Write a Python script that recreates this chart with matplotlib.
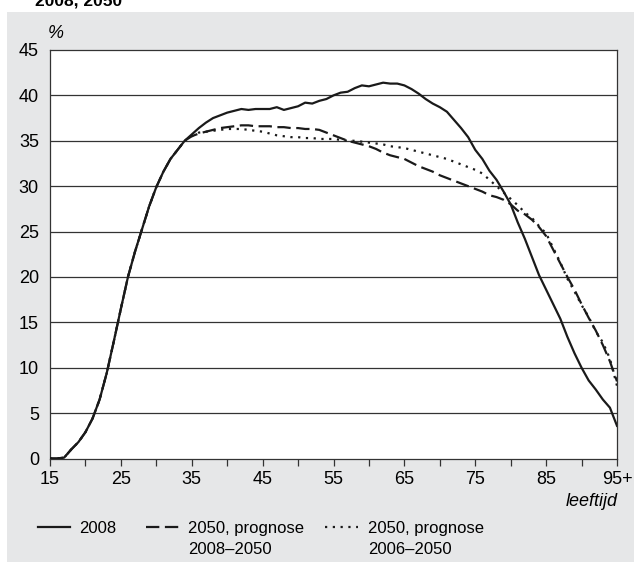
import matplotlib
matplotlib.use("Agg")
import matplotlib.pyplot as plt
from matplotlib.patches import Rectangle
from matplotlib.lines import Line2D

plt.rcParams['font.family'] = ['Liberation Sans', 'DejaVu Sans']

ages = list(range(15, 96))
xtick_vals = [15, 25, 35, 45, 55, 65, 75, 85, 95]
xtick_labels = ['15', '25', '35', '45', '55', '65', '75', '85', '95+']
ytick_vals = [0, 5, 10, 15, 20, 25, 30, 35, 40, 45]

y2008 = [0.0, 0.0, 0.1, 1.0, 1.8, 2.9, 4.4, 6.5, 9.4, 12.9,
         16.5, 20.0, 22.8, 25.3, 27.8, 29.9, 31.6, 33.0, 34.0, 35.0,
         35.7, 36.4, 37.0, 37.5, 37.8, 38.1, 38.3, 38.5, 38.4, 38.5,
         38.5, 38.5, 38.7, 38.4, 38.6, 38.8, 39.2, 39.1, 39.4, 39.6,
         40.0, 40.3, 40.4, 40.8, 41.1, 41.0, 41.2, 41.4, 41.3, 41.3,
         41.1, 40.7, 40.2, 39.6, 39.1, 38.7, 38.2, 37.3, 36.4, 35.4,
         34.0, 33.0, 31.7, 30.7, 29.4, 28.0, 26.0, 24.2, 22.2, 20.2,
         18.6, 17.0, 15.4, 13.4, 11.6, 10.0, 8.6, 7.6, 6.5, 5.6, 3.6]

y2050_a = [0.0, 0.0, 0.1, 1.0, 1.8, 2.9, 4.4, 6.5, 9.4, 12.9,
           16.5, 20.0, 22.8, 25.3, 27.8, 29.9, 31.6, 33.0, 34.0, 35.0,
           35.5, 35.8, 36.0, 36.2, 36.4, 36.5, 36.6, 36.7, 36.7, 36.6,
           36.6, 36.6, 36.5, 36.5, 36.4, 36.4, 36.3, 36.3, 36.2, 35.9,
           35.6, 35.3, 35.0, 34.8, 34.6, 34.4, 34.1, 33.7, 33.4, 33.2,
           33.0, 32.6, 32.2, 31.9, 31.6, 31.2, 30.9, 30.6, 30.3, 30.0,
           29.7, 29.4, 29.0, 28.8, 28.5, 28.0, 27.3, 26.9, 26.3, 25.5,
           24.5, 23.0, 21.5, 20.0, 18.6, 17.0, 15.5, 14.1, 12.5, 10.7, 8.5]

y2050_b = [0.0, 0.0, 0.1, 1.0, 1.8, 2.9, 4.4, 6.5, 9.4, 12.9,
           16.5, 20.0, 22.8, 25.3, 27.8, 29.9, 31.6, 33.0, 34.0, 35.0,
           35.5, 35.9, 36.0, 36.1, 36.2, 36.3, 36.3, 36.3, 36.2, 36.1,
           36.0, 35.8, 35.6, 35.5, 35.4, 35.4, 35.3, 35.3, 35.2, 35.2,
           35.2, 35.1, 35.0, 35.0, 34.9, 34.8, 34.7, 34.6, 34.4, 34.3,
           34.2, 34.0, 33.8, 33.6, 33.4, 33.2, 33.0, 32.7, 32.4, 32.1,
           31.8, 31.4, 30.7, 30.0, 29.3, 28.6, 27.9, 27.1, 26.5, 25.6,
           24.8, 23.2, 21.6, 19.8, 18.4, 16.9, 15.6, 14.0, 12.8, 11.0, 8.0]

labels = ['2008', '2050, prognose\n2008\u20132050', '2050, prognose\n2006\u20132050']

W, H = 634, 562
fig = plt.figure(figsize=(W / 100, H / 100), dpi=100)
fig.patch.set_facecolor('white')
bg = Rectangle((7 / W, 0), 1 - 7 / W, 1 - 12 / H, transform=fig.transFigure,
               facecolor='#e6e7e8', edgecolor='none', zorder=-10)
fig.patches.append(bg)

fig.text(35 / W, 1 - 5 / H, '2008, 2050', fontsize=12.5, fontweight='bold', va='baseline', ha='left')

ax = fig.add_axes([50 / W, (H - 458.5) / H, 567 / W, 408.5 / H])
ax.set_facecolor('white')

lw = 1.6
styles = [dict(), dict(dashes=(6, 2.5)), dict(dashes=(1, 2.5))]
series = [y2008, y2050_a, y2050_b]
zs = [4, 3, 3]
for ys, st, z in zip(series, styles, zs):
    ax.plot(ages, ys, color='#1a1a1a', lw=lw, zorder=z, **st)

ax.set_xlim(15, 95)
ax.set_ylim(0, 45)
for v in ytick_vals[1:-1]:
    ax.axhline(v, color='#333333', lw=0.9, zorder=1)

ax.set_yticks(ytick_vals)
ax.set_yticklabels([str(v) for v in ytick_vals])
ax.tick_params(axis='y', length=0, pad=8, labelsize=13)
ax.set_xticks(xtick_vals)
ax.set_xticklabels(xtick_labels)
ax.set_xticks(list(range(20, 95, 10)), minor=True)
ax.tick_params(axis='x', which='both', direction='out', length=5, width=0.9,
               color='#333333', pad=4, labelsize=13)
for s in ax.spines.values():
    s.set_color('#333333')
    s.set_linewidth(0.9)

fig.text(48 / W, (H - 34) / H, '%', fontsize=13, style='italic', ha='left', va='center')
fig.text(618 / W, (H - 501) / H, 'leeftijd', fontsize=13, style='italic', ha='right', va='center')

# manual legend
leg_y = 527
leg_items = [(38, 70, 79), (146, 180, 188), (325, 358, 368)]
for (x0, x1, tx), st, lab in zip(leg_items, styles, labels):
    fig.add_artist(Line2D([x0 / W, x1 / W], [(H - leg_y) / H] * 2, transform=fig.transFigure,
                          color='#1a1a1a', lw=lw, **st))
    for i, line in enumerate(lab.split('\n')):
        fig.text(tx / W, (H - 533 - 21 * i) / H, line, fontsize=12, ha='left', va='baseline')

fig.savefig('out.png', dpi=100)
